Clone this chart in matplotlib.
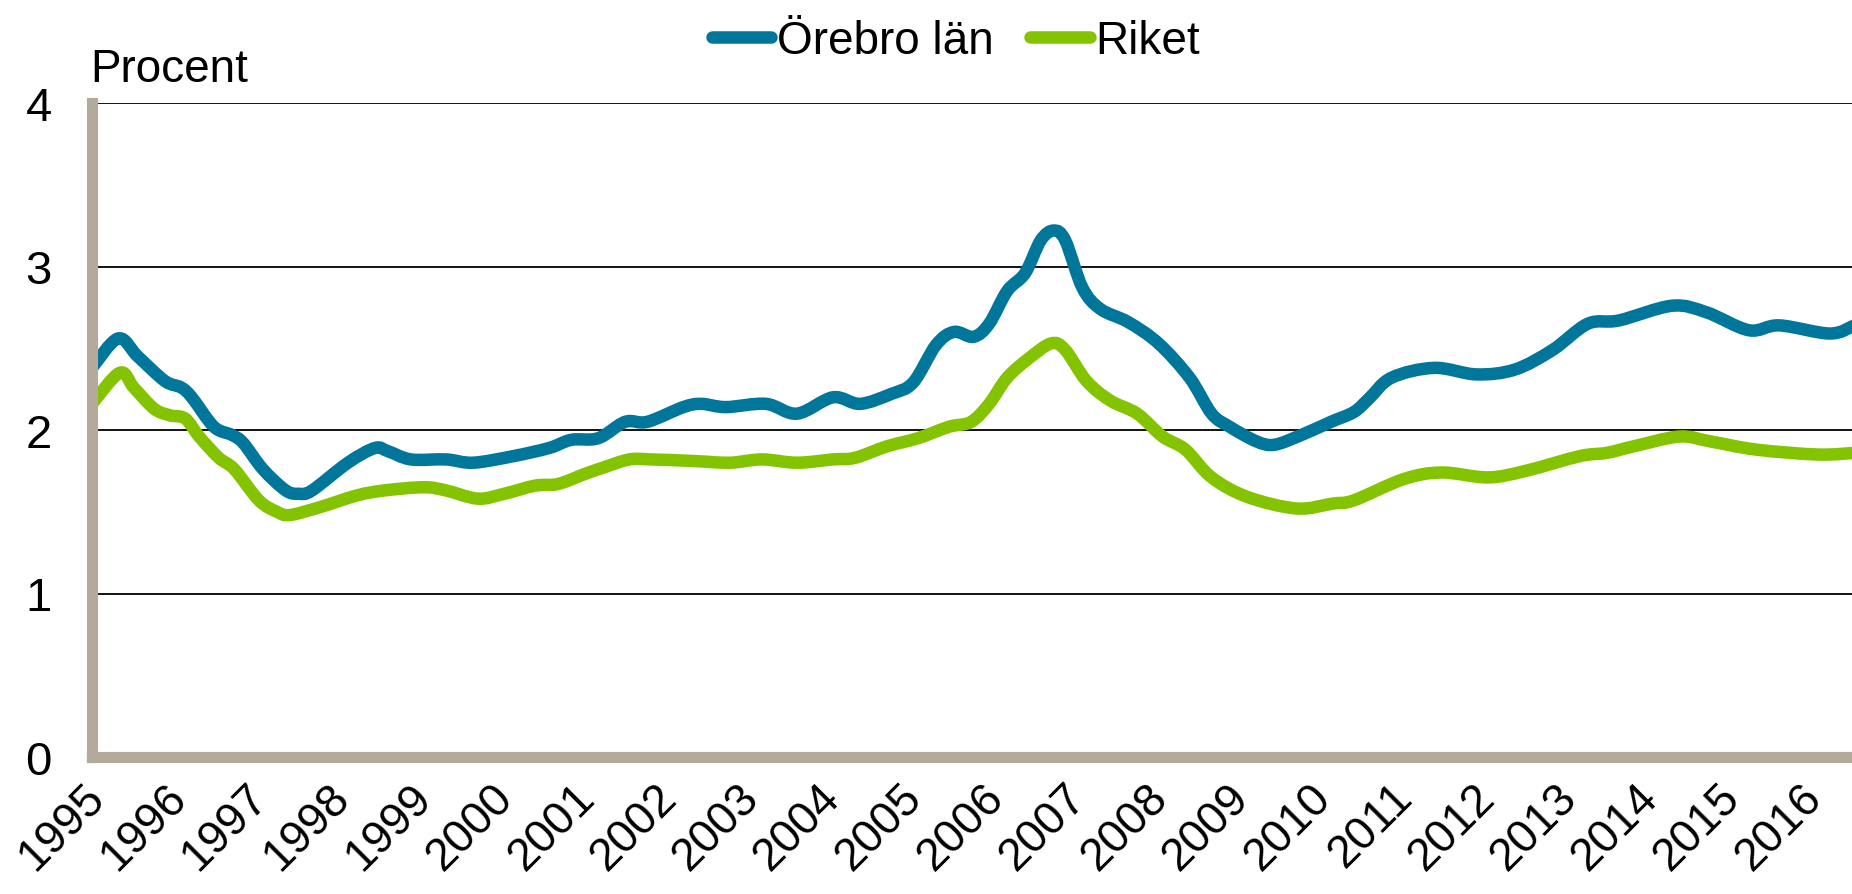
import numpy as np
import matplotlib
matplotlib.use("Agg")
import matplotlib.pyplot as plt
from matplotlib.path import Path
from matplotlib.patches import PathPatch
from matplotlib.lines import Line2D

# values (decimal year, percent)
orebro_year = [1994.93, 1995.25, 1995.49, 1995.82, 1996.02, 1996.15, 1996.42, 1996.64, 1996.78,
               1997.02, 1997.30, 1997.46, 1997.62, 1998.06, 1998.39, 1998.55, 1998.83, 1999.26,
               1999.59, 2000.08, 2000.52, 2000.79, 2001.12, 2001.45, 2001.72, 2002.16, 2002.38,
               2002.68, 2003.17, 2003.55, 2003.99, 2004.32, 2004.70, 2004.97, 2005.25, 2005.47,
               2005.71, 2005.90, 2006.12, 2006.34, 2006.53, 2006.69, 2006.83, 2007.04, 2007.26,
               2007.60, 2007.97, 2008.35, 2008.62, 2008.84, 2009.17, 2009.39, 2009.72, 2010.08,
               2010.36, 2010.54, 2010.82, 2011.34, 2011.86, 2012.33, 2012.79, 2013.22, 2013.60,
               2014.25, 2014.67, 2015.19, 2015.56, 2016.18, 2016.48]
orebro_pct = [2.38, 2.56, 2.45, 2.30, 2.26, 2.20, 2.02, 1.97, 1.92,
              1.76, 1.63, 1.61, 1.63, 1.80, 1.89, 1.87, 1.82, 1.82,
              1.80, 1.84, 1.89, 1.94, 1.95, 2.05, 2.05, 2.14, 2.16,
              2.14, 2.16, 2.10, 2.20, 2.16, 2.22, 2.29, 2.52, 2.60,
              2.57, 2.65, 2.85, 2.96, 3.16, 3.22, 3.16, 2.87, 2.74,
              2.66, 2.53, 2.32, 2.10, 2.02, 1.93, 1.91, 1.97, 2.05,
              2.11, 2.19, 2.32, 2.38, 2.34, 2.37, 2.49, 2.65, 2.67,
              2.76, 2.72, 2.61, 2.64, 2.59, 2.64]

riket_year = [1994.93, 1995.27, 1995.44, 1995.69, 1995.88, 1996.07, 1996.24, 1996.48, 1996.67,
              1996.97, 1997.19, 1997.35, 1997.73, 1998.17, 1998.50, 1998.99, 1999.26, 1999.65,
              1999.97, 2000.35, 2000.63, 2000.95, 2001.18, 2001.50, 2001.77, 2002.30, 2002.73,
              2003.12, 2003.55, 2003.99, 2004.26, 2004.65, 2005.03, 2005.41, 2005.68, 2005.90,
              2006.12, 2006.39, 2006.66, 2006.83, 2007.09, 2007.38, 2007.71, 2008.02, 2008.30,
              2008.62, 2009.06, 2009.66, 2010.10, 2010.36, 2010.97, 2011.43, 2012.00, 2012.46,
              2013.12, 2013.45, 2013.78, 2014.34, 2014.72, 2015.28, 2016.03, 2016.48]
riket_pct = [2.16, 2.35, 2.26, 2.13, 2.09, 2.07, 1.96, 1.83, 1.76,
             1.57, 1.50, 1.48, 1.53, 1.60, 1.63, 1.65, 1.63, 1.58,
             1.61, 1.66, 1.67, 1.73, 1.77, 1.82, 1.82, 1.81, 1.80,
             1.82, 1.80, 1.82, 1.83, 1.90, 1.95, 2.02, 2.05, 2.16,
             2.32, 2.44, 2.53, 2.49, 2.30, 2.18, 2.10, 1.96, 1.88,
             1.71, 1.59, 1.52, 1.55, 1.57, 1.70, 1.74, 1.71, 1.75,
             1.84, 1.86, 1.90, 1.96, 1.93, 1.88, 1.85, 1.86]

years = list(range(1995, 2017))
y_ticks = [0, 1, 2, 3, 4]

plt.rcParams['font.family'] = ['Liberation Sans', 'DejaVu Sans']

blue = '#00769A'
green = '#83C300'
axis_grey = '#B4AA9C'


def smooth_path(xs, ys):
    # Excel-style smoothed line: cubic Bezier through every point (Catmull-Rom tangents)
    p = np.column_stack([xs, ys])
    verts = [p[0]]
    codes = [Path.MOVETO]
    n = len(p)
    for i in range(n - 1):
        p0 = p[i - 1] if i > 0 else p[i]
        p3 = p[i + 2] if i + 2 < n else p[i + 1]
        c1 = p[i] + (p[i + 1] - p0) / 6
        c2 = p[i + 1] - (p3 - p[i]) / 6
        verts += [c1, c2, p[i + 1]]
        codes += [Path.CURVE4] * 3
    return Path(verts, codes)


fig = plt.figure(figsize=(18.52, 8.95), dpi=100)
ax = fig.add_axes([92/1852, 1 - 758/895, 1 - 92/1852, (758 - 104)/895])

for xs, ys, col in [(orebro_year, orebro_pct, blue), (riket_year, riket_pct, green)]:
    ax.add_patch(PathPatch(smooth_path(xs, ys), fill=False, edgecolor=col, lw=9,
                           joinstyle='round', capstyle='butt', zorder=3))

ax.set_xlim(orebro_year[0], 2016.45)
ax.set_ylim(0, 4)
ax.set_yticks(y_ticks)
ax.set_yticklabels([str(v) for v in y_ticks])
for v in y_ticks[1:]:
    ax.axhline(v, color='black', lw=1.3, zorder=1)

ax.set_xticks(years)
ax.set_xticklabels([str(y) for y in years], rotation=45, ha='right', va='center',
                   rotation_mode='anchor')
ax.tick_params(axis='x', length=0, pad=24, labelsize=33)
ax.tick_params(axis='y', length=0, pad=29, labelsize=34)

for s in ['top', 'right']:
    ax.spines[s].set_visible(False)
for s in ['left', 'bottom']:
    ax.spines[s].set_color(axis_grey)
    ax.spines[s].set_linewidth(8)
    ax.spines[s].set_zorder(4)

fig.text(90/1852, 1 - 82/895, 'Procent', fontsize=33, ha='left', va='baseline')

handles = [Line2D([], [], color=blue, lw=9, solid_capstyle='round'),
           Line2D([], [], color=green, lw=9, solid_capstyle='round')]
fig.legend(handles, ['Örebro län', 'Riket'], loc='center', bbox_to_anchor=(0.516, 1 - 42/895),
           ncol=2, frameon=False, fontsize=33, handlelength=1.3, handletextpad=0.12,
           columnspacing=0.8, borderaxespad=0, borderpad=0)

fig.savefig('out.png', dpi=100)
